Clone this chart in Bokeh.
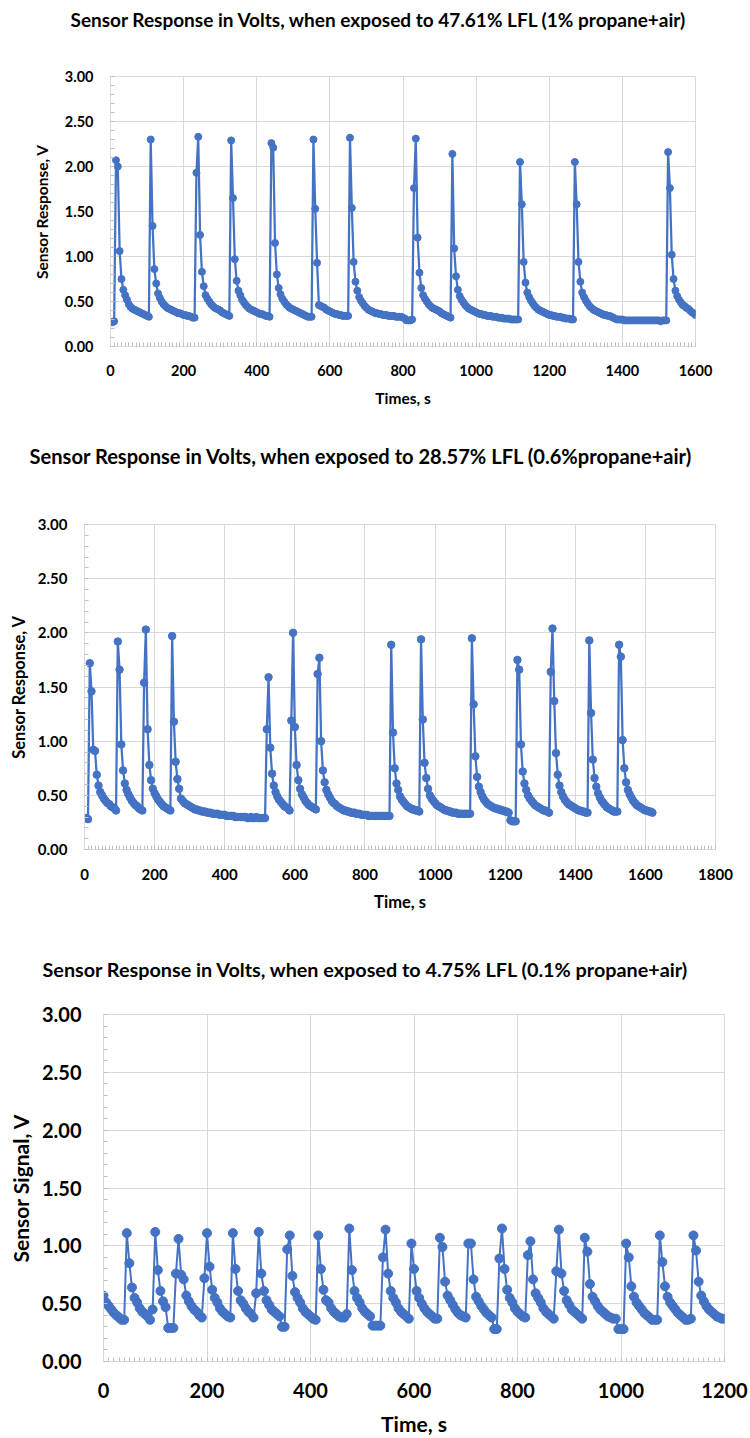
from bokeh.plotting import figure
from bokeh.models import Range1d, SingleIntervalTicker, NumeralTickFormatter, Title
from bokeh.embed import file_html
from bokeh.resources import INLINE

# ---------------- data ----------------
# Chart 1: 47.61% LFL (1% propane+air); one reading every 5 s from 0 s to 1600 s
sample_step_1 = 5
volts_1 = [
    0.27, 0.27, 0.28, 2.07, 2.00, 1.06, 0.75, 0.63, 0.57, 0.52,
    0.47, 0.44, 0.42, 0.41, 0.40, 0.39, 0.38, 0.37, 0.36, 0.35,
    0.34, 0.33, 2.30, 1.34, 0.86, 0.70, 0.59, 0.54, 0.50, 0.47,
    0.45, 0.43, 0.42, 0.41, 0.40, 0.39, 0.38, 0.37, 0.37, 0.36,
    0.35, 0.35, 0.34, 0.34, 0.33, 0.32, 0.32, 1.93, 2.33, 1.24,
    0.83, 0.67, 0.57, 0.53, 0.50, 0.47, 0.45, 0.43, 0.42, 0.41,
    0.40, 0.38, 0.37, 0.36, 0.35, 0.34, 2.29, 1.65, 0.97, 0.73,
    0.62, 0.57, 0.52, 0.49, 0.46, 0.44, 0.42, 0.41, 0.40, 0.39,
    0.38, 0.37, 0.36, 0.36, 0.35, 0.34, 0.34, 0.33, 2.26, 2.21,
    1.15, 0.80, 0.65, 0.58, 0.53, 0.50, 0.47, 0.45, 0.43, 0.42,
    0.41, 0.40, 0.39, 0.38, 0.37, 0.36, 0.35, 0.34, 0.33, 0.33,
    0.33, 2.30, 1.53, 0.93, 0.46, 0.45, 0.44, 0.43, 0.41, 0.40,
    0.39, 0.38, 0.37, 0.36, 0.36, 0.35, 0.35, 0.34, 0.34, 0.34,
    0.34, 2.32, 1.54, 0.94, 0.72, 0.62, 0.55, 0.51, 0.48, 0.45,
    0.43, 0.41, 0.40, 0.39, 0.38, 0.37, 0.37, 0.36, 0.36, 0.35,
    0.35, 0.35, 0.34, 0.34, 0.34, 0.34, 0.33, 0.33, 0.33, 0.33,
    0.32, 0.31, 0.29, 0.29, 0.29, 0.30, 1.76, 2.31, 1.21, 0.82,
    0.65, 0.57, 0.53, 0.50, 0.47, 0.45, 0.43, 0.42, 0.41, 0.40,
    0.39, 0.37, 0.36, 0.35, 0.34, 0.33, 0.32, 2.14, 1.09, 0.78,
    0.63, 0.56, 0.52, 0.49, 0.46, 0.44, 0.42, 0.41, 0.40, 0.39,
    0.38, 0.37, 0.36, 0.36, 0.35, 0.35, 0.34, 0.34, 0.34, 0.33,
    0.33, 0.33, 0.32, 0.32, 0.32, 0.31, 0.31, 0.31, 0.31, 0.30,
    0.30, 0.30, 0.30, 0.30, 2.05, 1.58, 0.94, 0.71, 0.60, 0.55,
    0.51, 0.48, 0.45, 0.43, 0.41, 0.40, 0.39, 0.38, 0.37, 0.36,
    0.35, 0.35, 0.34, 0.34, 0.33, 0.33, 0.33, 0.32, 0.32, 0.31,
    0.31, 0.31, 0.30, 0.30, 2.05, 1.58, 0.94, 0.72, 0.60, 0.55,
    0.51, 0.48, 0.45, 0.43, 0.41, 0.40, 0.39, 0.38, 0.37, 0.36,
    0.35, 0.35, 0.34, 0.34, 0.33, 0.32, 0.31, 0.30, 0.30, 0.30,
    0.30, 0.29, 0.29, 0.29, 0.29, 0.29, 0.29, 0.29, 0.29, 0.29,
    0.29, 0.29, 0.29, 0.29, 0.29, 0.29, 0.29, 0.29, 0.29, 0.29,
    0.29, 0.28, 0.29, 0.29, 0.29, 2.16, 1.76, 1.02, 0.75, 0.62,
    0.56, 0.52, 0.49, 0.46, 0.45, 0.43, 0.42, 0.40, 0.38, 0.37,
    0.35,
]

# Chart 2: 28.57% LFL (0.6% propane+air); one reading every 5 s from 0 s to 1620 s
sample_step_2 = 5
volts_2 = [
    0.29, 0.29, 0.28, 1.72, 1.46, 0.92, 0.91, 0.69, 0.59, 0.53,
    0.50, 0.47, 0.45, 0.43, 0.42, 0.40, 0.39, 0.38, 0.36, 1.92,
    1.66, 0.97, 0.73, 0.61, 0.55, 0.51, 0.48, 0.45, 0.43, 0.41,
    0.40, 0.38, 0.37, 0.36, 1.54, 2.03, 1.11, 0.78, 0.64, 0.56,
    0.52, 0.49, 0.46, 0.44, 0.42, 0.40, 0.39, 0.38, 0.37, 0.36,
    1.97, 1.18, 0.81, 0.65, 0.56, 0.47, 0.45, 0.43, 0.42, 0.41,
    0.40, 0.39, 0.38, 0.37, 0.37, 0.36, 0.36, 0.35, 0.35, 0.35,
    0.34, 0.34, 0.34, 0.33, 0.33, 0.33, 0.33, 0.32, 0.32, 0.32,
    0.32, 0.31, 0.31, 0.31, 0.31, 0.31, 0.30, 0.30, 0.30, 0.30,
    0.30, 0.30, 0.30, 0.29, 0.29, 0.30, 0.29, 0.29, 0.30, 0.29,
    0.29, 0.29, 0.29, 0.29, 1.11, 1.59, 0.94, 0.70, 0.59, 0.53,
    0.49, 0.46, 0.44, 0.42, 0.40, 0.39, 0.38, 0.36, 1.19, 2.00,
    1.13, 0.78, 0.64, 0.56, 0.51, 0.48, 0.45, 0.43, 0.41, 0.40,
    0.39, 0.38, 0.37, 1.62, 1.77, 1.00, 0.73, 0.62, 0.55, 0.51,
    0.48, 0.45, 0.43, 0.42, 0.40, 0.39, 0.38, 0.37, 0.36, 0.36,
    0.35, 0.35, 0.34, 0.34, 0.34, 0.33, 0.33, 0.33, 0.32, 0.32,
    0.32, 0.32, 0.31, 0.31, 0.31, 0.31, 0.31, 0.31, 0.31, 0.31,
    0.31, 0.31, 0.31, 0.31, 0.31, 1.89, 1.08, 0.75, 0.61, 0.55,
    0.49, 0.46, 0.44, 0.42, 0.40, 0.39, 0.38, 0.37, 0.37, 0.36,
    0.36, 0.35, 1.94, 1.20, 0.80, 0.66, 0.56, 0.50, 0.47, 0.45,
    0.43, 0.41, 0.40, 0.39, 0.38, 0.37, 0.36, 0.36, 0.35, 0.35,
    0.34, 0.34, 0.34, 0.33, 0.33, 0.33, 0.33, 0.33, 0.33, 0.33,
    0.33, 1.95, 1.34, 0.86, 0.67, 0.58, 0.53, 0.49, 0.46, 0.44,
    0.42, 0.41, 0.40, 0.39, 0.38, 0.38, 0.37, 0.37, 0.36, 0.36,
    0.35, 0.35, 0.34, 0.27, 0.26, 0.26, 0.26, 1.75, 1.66, 0.97,
    0.72, 0.61, 0.55, 0.50, 0.47, 0.45, 0.43, 0.41, 0.40, 0.39,
    0.38, 0.37, 0.36, 0.36, 0.35, 0.34, 1.64, 2.04, 1.37, 0.89,
    0.69, 0.59, 0.53, 0.49, 0.46, 0.44, 0.42, 0.41, 0.40, 0.39,
    0.38, 0.37, 0.36, 0.36, 0.35, 0.35, 0.34, 0.34, 1.93, 1.26,
    0.83, 0.66, 0.58, 0.52, 0.48, 0.45, 0.43, 0.41, 0.39, 0.38,
    0.37, 0.36, 0.35, 0.35, 0.35, 1.89, 1.78, 1.01, 0.75, 0.62,
    0.55, 0.51, 0.48, 0.45, 0.43, 0.41, 0.40, 0.39, 0.38, 0.37,
    0.36, 0.36, 0.35, 0.35, 0.34,
]

# Chart 3: 4.75% LFL (0.1% propane+air); one reading every 5 s from 0 s to 1200 s
sample_step_3 = 5
volts_3 = [
    0.57, 0.51, 0.48, 0.45, 0.42, 0.40, 0.38, 0.36, 0.36, 1.11,
    0.85, 0.64, 0.55, 0.51, 0.46, 0.43, 0.41, 0.39, 0.36, 0.45,
    1.12, 0.79, 0.61, 0.52, 0.47, 0.29, 0.29, 0.29, 0.76, 1.06,
    0.75, 0.71, 0.57, 0.52, 0.48, 0.45, 0.43, 0.40, 0.38, 0.72,
    1.11, 0.82, 0.62, 0.55, 0.51, 0.46, 0.43, 0.41, 0.39, 0.38,
    1.11, 0.80, 0.61, 0.53, 0.50, 0.46, 0.43, 0.41, 0.38, 0.59,
    1.12, 0.76, 0.61, 0.53, 0.49, 0.45, 0.43, 0.41, 0.39, 0.30,
    0.30, 0.97, 1.09, 0.74, 0.60, 0.55, 0.51, 0.46, 0.43, 0.41,
    0.39, 0.37, 0.36, 1.09, 0.80, 0.62, 0.53, 0.51, 0.46, 0.43,
    0.41, 0.39, 0.38, 0.38, 0.41, 1.15, 0.79, 0.61, 0.55, 0.51,
    0.46, 0.43, 0.41, 0.39, 0.31, 0.31, 0.31, 0.31, 0.90, 1.14,
    0.76, 0.61, 0.55, 0.51, 0.46, 0.43, 0.41, 0.39, 0.37, 1.02,
    0.80, 0.61, 0.55, 0.50, 0.46, 0.43, 0.41, 0.39, 0.37, 0.37,
    1.07, 0.99, 0.69, 0.57, 0.53, 0.49, 0.45, 0.42, 0.40, 0.39,
    0.38, 1.02, 1.02, 0.71, 0.56, 0.52, 0.48, 0.45, 0.42, 0.40,
    0.38, 0.28, 0.28, 0.89, 1.15, 0.80, 0.62, 0.55, 0.51, 0.46,
    0.43, 0.41, 0.39, 0.38, 0.92, 1.04, 0.71, 0.59, 0.55, 0.51,
    0.46, 0.43, 0.41, 0.39, 0.37, 0.78, 1.14, 0.76, 0.61, 0.53,
    0.49, 0.45, 0.43, 0.41, 0.39, 0.37, 1.07, 0.95, 0.67, 0.56,
    0.52, 0.48, 0.45, 0.43, 0.41, 0.39, 0.38, 0.37, 0.37, 0.28,
    0.28, 0.28, 1.02, 0.90, 0.65, 0.56, 0.51, 0.48, 0.45, 0.42,
    0.40, 0.38, 0.36, 0.36, 0.36, 1.09, 0.86, 0.65, 0.56, 0.51,
    0.48, 0.45, 0.42, 0.40, 0.38, 0.36, 0.36, 0.37, 1.09, 0.96,
    0.69, 0.57, 0.52, 0.48, 0.45, 0.43, 0.41, 0.39, 0.38, 0.37,
    0.37,
]

time_1 = [i * sample_step_1 for i in range(len(volts_1))]
time_2 = [i * sample_step_2 for i in range(len(volts_2))]
time_3 = [i * sample_step_3 for i in range(len(volts_3))]

titles = [
    "Sensor Response in Volts, when exposed to 47.61% LFL (1% propane+air)",
    "Sensor Response in Volts, when exposed to 28.57% LFL (0.6%propane+air)",
    "Sensor Response in Volts, when exposed to 4.75% LFL (0.1% propane+air)",
]
x_labels = ["Times, s", "Time, s", "Time, s"]
y_labels = ["Sensor Response, V", "Sensor Response, V", "Sensor Signal, V"]
x_max = [1600, 1800, 1200]

# ---------------- styles / layout ----------------
BLUE = "#4472C4"
GRID = "#d9d9d9"
MINOR = "#bfbfbf"
FONT = "Lato"

layouts = [
    dict(h=435, bl=110, br=55, bt=76, bb=89, t_off=-40, t_size=19.0, spacer=41,
         tick=14.5, lab=15.5, xstd=18, ystd=17, xlstd=10, ylstd=11, ms=7, lw=2.25),
    dict(h=510, bl=84, br=35, bt=89, bb=96, t_off=-55, t_size=20.1, spacer=52,
         tick=15, lab=16.5, xstd=19, ystd=17, xlstd=9, ylstd=6, ms=7.5, lw=2.25),
    dict(h=493, bl=103, br=26, bt=69, bb=76, t_off=-61, t_size=19.8, spacer=29,
         tick=20, lab=21, xstd=21, ystd=22, xlstd=10, ylstd=6, ms=9, lw=2.0),
]


def build(i, t, v):
    c = layouts[i]
    p = figure(width=750, height=c["h"], x_range=Range1d(0, x_max[i]), y_range=Range1d(0, 3),
               output_backend="svg", toolbar_location=None,
               min_border_left=c["bl"], min_border_right=c["br"],
               min_border_top=c["bt"], min_border_bottom=c["bb"])
    p.background_fill_color = "white"
    p.border_fill_color = "white"
    p.outline_line_color = GRID
    p.outline_line_width = 1

    p.xaxis.ticker = SingleIntervalTicker(interval=200, num_minor_ticks=20)
    p.yaxis.ticker = SingleIntervalTicker(interval=0.5, num_minor_ticks=5)
    p.yaxis.formatter = NumeralTickFormatter(format="0.00")
    p.xgrid.grid_line_color = GRID
    p.ygrid.grid_line_color = GRID

    for ax in (p.xaxis, p.yaxis):
        ax.axis_line_color = GRID
        ax.major_tick_line_color = None
        ax.major_tick_in = 0
        ax.major_tick_out = 0
        ax.minor_tick_line_color = MINOR
        ax.minor_tick_in = 4
        ax.minor_tick_out = 0
        ax.major_label_text_font = FONT
        ax.major_label_text_font_style = "bold"
        ax.major_label_text_font_size = f"{c['tick']}px"
        ax.major_label_text_color = "#000000"
        ax.axis_label_text_font = FONT
        ax.axis_label_text_font_style = "bold"
        ax.axis_label_text_font_size = f"{c['lab']}px"
        ax.axis_label_text_color = "#000000"

    p.xaxis.major_label_standoff = c["xstd"]
    p.yaxis.major_label_standoff = c["ystd"]
    p.xaxis.axis_label_standoff = c["xlstd"]
    p.yaxis.axis_label_standoff = c["ylstd"]
    p.xaxis.axis_label = x_labels[i]
    p.yaxis.axis_label = y_labels[i]

    p.line(t, v, line_color=BLUE, line_width=c["lw"])
    p.scatter(t, v, marker="circle", size=c["ms"], fill_color=BLUE, line_color=BLUE)

    # invisible spacer panel next to the frame, then the chart title above it
    p.add_layout(Title(text=" ", text_font_size="1px", standoff=c["spacer"]), "above")
    p.add_layout(Title(text=titles[i], align="left", offset=c["t_off"], vertical_align="top",
                       standoff=0, text_font=FONT, text_font_style="bold",
                       text_font_size=f"{c['t_size']}px", text_color="#000000"), "above")
    return p


p1 = build(0, time_1, volts_1)
p2 = build(1, time_2, volts_2)
p3 = build(2, time_3, volts_3)

open("out.html", "w").write(file_html([p1, p2, p3], INLINE))
